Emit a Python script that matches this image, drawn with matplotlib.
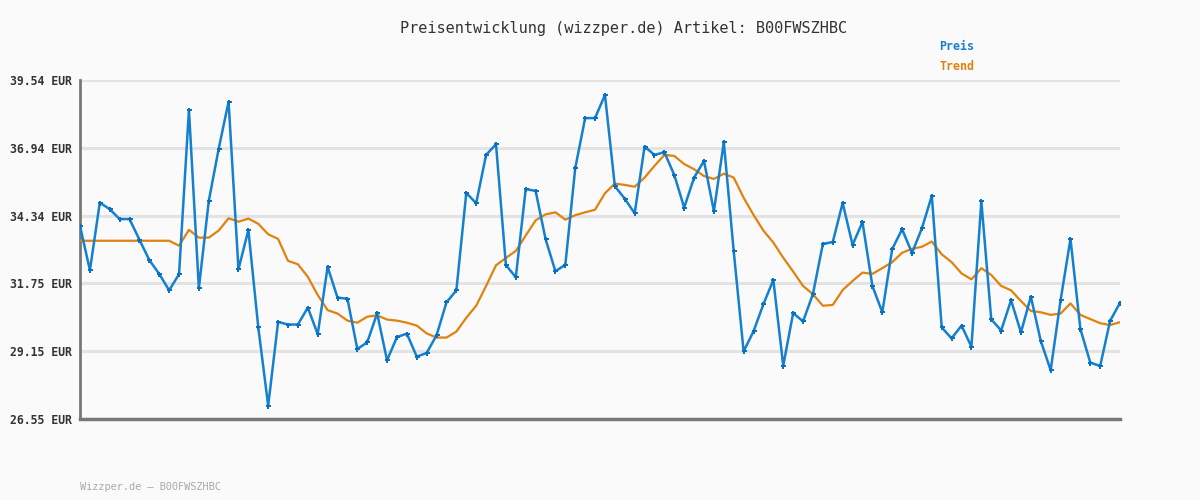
import matplotlib
matplotlib.use("Agg")
import matplotlib.pyplot as plt
import numpy as np

title = "Preisentwicklung (wizzper.de) Artikel: B00FWSZHBC"
footer = "Wizzper.de \u2013 B00FWSZHBC"
y_ticks = [26.55, 29.15, 31.75, 34.34, 36.94, 39.54]
y_labels = ["26.55 EUR", "29.15 EUR", "31.75 EUR", "34.34 EUR", "36.94 EUR", "39.54 EUR"]

preis = [33.95, 32.25, 34.84, 34.59, 34.21, 34.21, 33.42, 32.64, 32.11, 31.48,
         32.10, 38.40, 31.56, 34.90, 36.90, 38.71, 32.29, 33.79, 30.06, 27.06,
         30.27, 30.17, 30.17, 30.82, 29.80, 32.38, 31.20, 31.16, 29.23, 29.49,
         30.60, 28.80, 29.69, 29.82, 28.94, 29.08, 29.76, 31.02, 31.48, 35.21,
         34.82, 36.67, 37.08, 32.45, 31.98, 35.36, 35.29, 33.45, 32.21, 32.46,
         36.16, 38.08, 38.08, 38.97, 35.47, 34.99, 34.43, 36.99, 36.67, 36.77,
         35.90, 34.65, 35.80, 36.44, 34.51, 37.16, 32.98, 29.14, 29.91, 30.95,
         31.88, 28.59, 30.61, 30.29, 31.34, 33.26, 33.33, 34.83, 33.22, 34.10,
         31.65, 30.64, 33.06, 33.82, 32.91, 33.86, 35.10, 30.06, 29.64, 30.13,
         29.32, 34.90, 30.37, 29.94, 31.10, 29.87, 31.24, 29.54, 28.42, 31.10,
         33.45, 30.00, 28.71, 28.58, 30.31, 31.00]

trend = [33.38, 33.38, 33.38, 33.38, 33.38, 33.38, 33.38, 33.38, 33.38, 33.38,
         33.19, 33.80, 33.50, 33.50, 33.77, 34.24, 34.11, 34.23, 34.03, 33.63,
         33.45, 32.61, 32.48, 32.00, 31.30, 30.72, 30.59, 30.32, 30.24, 30.47,
         30.52, 30.36, 30.32, 30.24, 30.13, 29.83, 29.67, 29.67, 29.90, 30.43,
         30.89, 31.65, 32.44, 32.72, 32.99, 33.58, 34.16, 34.39, 34.47, 34.19,
         34.36, 34.47, 34.57, 35.20, 35.57, 35.52, 35.45, 35.80, 36.25, 36.67,
         36.63, 36.32, 36.12, 35.86, 35.75, 35.95, 35.80, 35.03, 34.37, 33.77,
         33.31, 32.73, 32.20, 31.65, 31.33, 30.89, 30.92, 31.49, 31.84, 32.16,
         32.11, 32.33, 32.56, 32.92, 33.07, 33.15, 33.35, 32.86, 32.56, 32.13,
         31.90, 32.33, 32.07, 31.65, 31.48, 31.07, 30.69, 30.64, 30.54, 30.59,
         30.98, 30.54, 30.38, 30.22, 30.15, 30.26]

BG = "#fafafa"
BLUE = "#1580d0"
ORANGE = "#e0820f"

fig = plt.figure(figsize=(12, 5), dpi=100, facecolor=BG)
ax = fig.add_axes([80/1200, 1 - 419/500, 1040/1200, 339/500])
ax.set_facecolor(BG)

x = np.arange(len(preis))
ax.set_xlim(0, len(preis) - 1)
ax.set_ylim(y_ticks[0], y_ticks[-1])

for yv in y_ticks[1:]:
    ax.axhline(yv, color="#e3e3e3", lw=2.2, zorder=1)

ax.plot(x, trend, color=ORANGE, lw=1.6, zorder=3)
ax.plot(x, preis, color=BLUE, lw=1.8, zorder=4,
        marker="P", markersize=3.6, markeredgewidth=0, markerfacecolor="#0a70c0")

ax.set_yticks(y_ticks)
ax.set_yticklabels(y_labels, fontfamily="DejaVu Sans Mono", fontweight="bold",
                   fontsize=8.3, color="#333333")
ax.tick_params(axis="y", length=0, pad=6)
ax.set_xticks([])
for s in ["top", "right"]:
    ax.spines[s].set_visible(False)
ax.spines["left"].set_color("#777777")
ax.spines["left"].set_linewidth(2)
ax.spines["bottom"].set_color("#777777")
ax.spines["bottom"].set_linewidth(2.5)

fig.text(624/1200, 1 - 28/500, title, ha="center", va="center",
         fontfamily="DejaVu Sans Mono", fontsize=11, color="#333333")
fig.text(939/1200, 1 - 47/500, "Preis", ha="left", va="center",
         fontfamily="DejaVu Sans Mono", fontweight="bold", fontsize=8.4, color=BLUE)
fig.text(939/1200, 1 - 67/500, "Trend", ha="left", va="center",
         fontfamily="DejaVu Sans Mono", fontweight="bold", fontsize=8.4, color=ORANGE)
fig.text(80/1200, 1 - 487/500, footer, ha="left", va="center",
         fontfamily="DejaVu Sans Mono", fontsize=7.4, color="#aaaaaa")

fig.savefig("out.png", dpi=100, facecolor=BG)
